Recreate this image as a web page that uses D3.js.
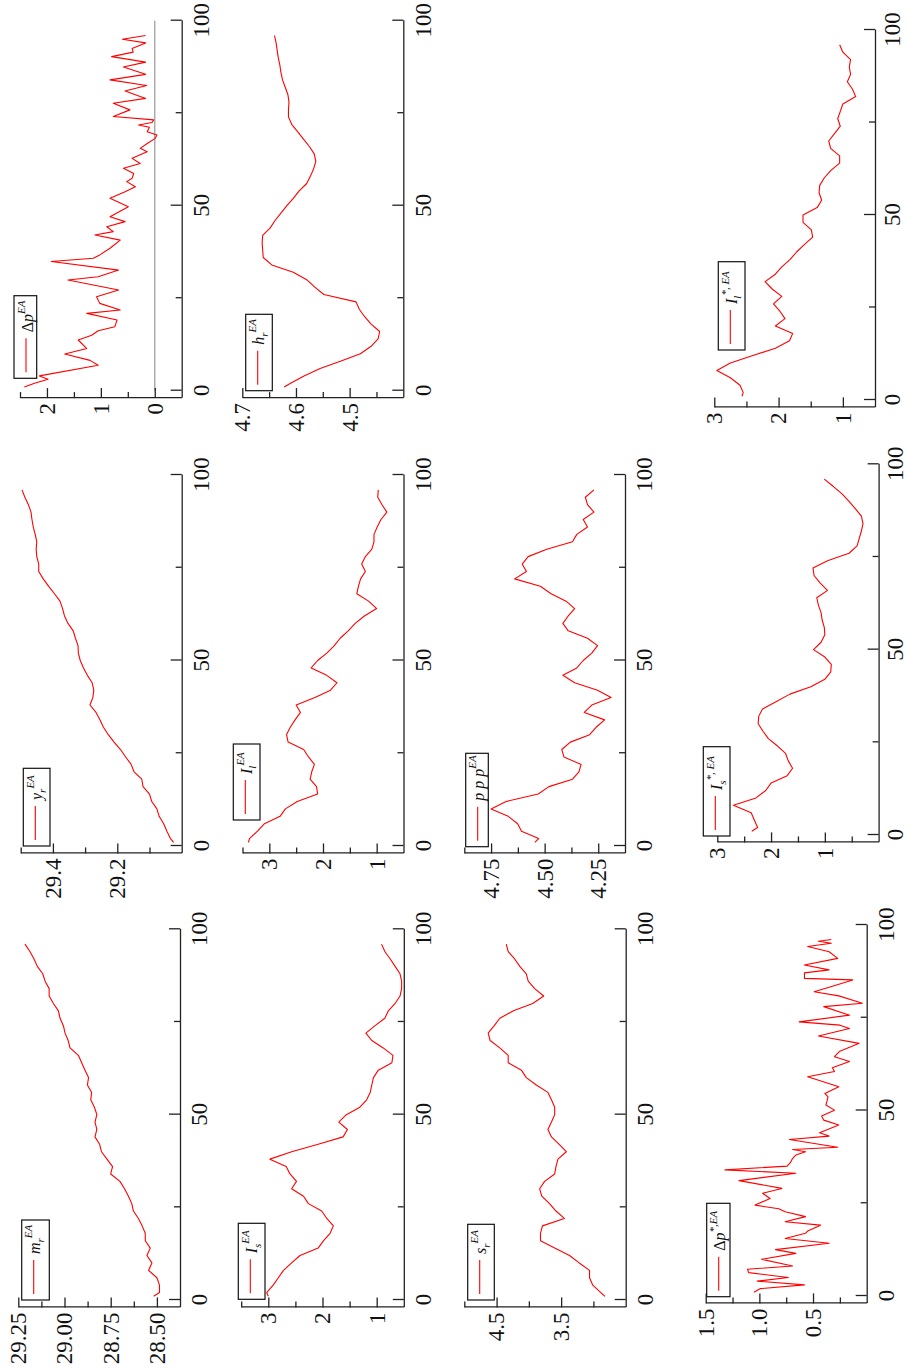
<!DOCTYPE html>
<html><head><meta charset="utf-8">
<script src="https://cdn.jsdelivr.net/npm/d3@7"></script>
<style>body{margin:0;background:#fff}svg{display:block}svg text{font-family:'Liberation Serif','Times New Roman',serif}</style>
</head><body>
<svg id="chart" width="909" height="1370"></svg>
<script>
// ---- data (period index and values) ----
const tGrid = [1,2,4,6,8,10,12,14,16,18,20,22,24,26,28,30,32,34,36,38,40,42,44,46,48,50,52,54,56,58,60,62,64,66,68,70,72,74,76,78,80,82,84,86,88,90,92,94,96];

const mr = [28.518,28.486,28.486,28.50,28.545,28.527,28.554,28.536,28.563,28.563,28.58,28.60,28.627,28.636,28.654,28.675,28.70,28.75,28.74,28.77,28.80,28.81,28.835,28.825,28.835,28.825,28.838,28.858,28.853,28.876,28.87,28.889,28.907,28.925,28.97,28.98,28.997,29.006,29.024,29.033,29.06,29.083,29.083,29.105,29.118,29.147,29.165,29.187,29.214];
const Is = [3.0,3.03,2.91,2.815,2.72,2.57,2.415,2.08,1.98,1.86,1.80,1.92,2.015,2.26,2.35,2.57,2.48,2.60,2.67,2.97,2.57,2.08,1.62,1.54,1.70,1.56,1.31,1.185,1.12,1.09,1.06,0.97,0.72,0.70,0.88,1.09,1.20,1.03,0.85,0.785,0.66,0.57,0.54,0.54,0.57,0.66,0.75,0.85,0.91];
const sr = [2.82,2.885,3.01,3.06,3.06,3.22,3.37,3.60,3.82,3.82,3.79,3.45,3.58,3.68,3.80,3.833,3.756,3.60,3.58,3.55,3.42,3.53,3.65,3.705,3.65,3.60,3.60,3.65,3.705,3.885,4.04,4.115,4.32,4.32,4.45,4.60,4.63,4.536,4.45,4.24,3.94,3.77,3.91,4.01,4.04,4.14,4.22,4.32,4.35];
const yr = [29.025,29.035,29.046,29.056,29.070,29.077,29.093,29.100,29.12,29.124,29.148,29.157,29.174,29.19,29.21,29.228,29.243,29.254,29.266,29.285,29.276,29.273,29.278,29.293,29.305,29.315,29.321,29.322,29.330,29.337,29.353,29.364,29.370,29.378,29.395,29.413,29.43,29.444,29.444,29.45,29.452,29.45,29.455,29.461,29.465,29.468,29.476,29.487,29.496];
const Il = [3.39,3.37,3.22,3.09,2.80,2.70,2.48,2.10,2.12,2.24,2.21,2.16,2.27,2.36,2.65,2.68,2.61,2.52,2.42,2.50,2.15,1.86,1.74,1.93,2.22,2.10,1.93,1.79,1.68,1.53,1.40,1.23,1.00,1.15,1.37,1.34,1.30,1.21,1.28,1.21,1.09,1.05,1.05,0.99,0.92,0.81,0.90,0.98,0.97];
const ppp = [4.546,4.528,4.608,4.626,4.67,4.75,4.68,4.53,4.48,4.37,4.34,4.33,4.41,4.42,4.38,4.29,4.26,4.22,4.315,4.28,4.19,4.253,4.36,4.415,4.35,4.32,4.28,4.253,4.30,4.39,4.415,4.39,4.36,4.40,4.47,4.52,4.64,4.585,4.605,4.577,4.49,4.37,4.35,4.30,4.32,4.27,4.30,4.31,4.27];
const IsStar = [2.36,2.25,2.31,2.37,2.70,2.28,2.10,2.00,1.70,1.60,1.68,1.73,1.88,2.05,2.15,2.24,2.23,2.16,1.90,1.65,1.26,1.00,0.89,0.88,1.00,1.21,1.07,1.0,1.01,1.05,1.07,1.12,1.15,0.95,1.09,1.20,1.22,0.95,0.55,0.40,0.36,0.32,0.29,0.32,0.43,0.55,0.68,0.84,1.01];
const hr = [4.622,4.61,4.585,4.555,4.516,4.48,4.46,4.447,4.444,4.46,4.472,4.482,4.488,4.548,4.565,4.58,4.605,4.645,4.661,4.662,4.663,4.662,4.648,4.639,4.628,4.617,4.605,4.594,4.58,4.573,4.567,4.563,4.566,4.575,4.586,4.597,4.608,4.614,4.614,4.613,4.615,4.62,4.625,4.628,4.63,4.633,4.635,4.637,4.64];
const IlStar = [2.57,2.55,2.60,2.75,2.96,2.75,2.40,2.05,1.83,1.78,2.05,1.90,1.98,2.08,1.95,2.10,2.21,2.05,1.95,1.82,1.72,1.60,1.47,1.49,1.62,1.62,1.40,1.33,1.37,1.36,1.29,1.19,1.05,1.05,1.19,1.22,1.13,1.04,1.08,1.04,1.00,0.80,0.85,0.93,0.88,0.90,0.88,1.00,1.05];

const dpT = [1,2,3.1,4,6.9,8.2,9.9,11.4,13.7,15,16.2,17.3,18.2,19.1,20.9,21.8,23.6,25.4,27.2,29.9,30.8,32.6,34.9,35.8,36.7,38.5,40.7,42.1,43,44.3,45.7,47,49.7,52,53.8,55.1,56.5,57.4,58.7,60.1,61.4,62.8,64.6,65.5,66.8,68.2,69.1,70,71.2,71.8,72.5,73.2,74.1,75.9,77.7,79,81,82.5,84,85.5,87.5,88.8,90.3,91.5,92.5,94,95,96];
const dpV = [2.42,2.23,1.98,2.14,1.05,1.20,1.67,1.26,1.42,1.17,1.05,0.74,0.72,0.70,1.26,0.64,1.02,1.08,0.67,1.61,1.05,0.67,1.92,1.14,1.02,0.83,0.64,1.11,0.77,0.89,0.55,0.83,0.49,0.83,0.55,0.36,0.52,0.42,0.39,0.58,0.27,0.42,0.14,0.27,0.14,-0.01,-0.04,0.14,0.10,0.30,0.05,0.02,0.77,0.46,0.77,0.17,0.55,0.15,0.83,0.17,0.58,0.17,0.80,0.40,0.42,0.17,0.60,0.17];
const dpStarT = [1,2,3,4,5,6.3,7.2,8.1,9.9,11.5,12.5,14.2,15.5,16.9,17.5,19.1,20,21.4,22.7,23.5,24.5,26.3,27.7,29,31.1,33.1,34,35,36,37.1,38,38.9,39.5,40.1,42.2,43.1,44,46.1,47.4,48.5,50.1,51.5,52.5,53.7,54.6,56.4,59.1,60.5,61.5,63.2,64.5,66,68.1,70.1,72.1,73,73.9,75.7,78,78.9,80.9,82,83.2,85.2,85.6,87.1,87.9,89.2,91,92.8,94.2,95.1,95.6,96.1];
const dpStarV = [1.05,0.99,0.58,1.02,0.73,1.10,1.11,0.69,0.98,0.66,0.85,0.35,0.76,0.57,0.55,0.43,0.76,0.57,0.76,0.82,1.04,0.90,0.97,0.79,1.19,0.66,1.32,0.74,0.71,0.69,0.66,0.57,0.69,0.27,0.72,0.35,0.44,0.26,0.40,0.42,0.30,0.38,0.37,0.36,0.39,0.26,0.55,0.30,0.32,0.16,0.30,0.25,0.07,0.45,0.16,0.25,0.63,0.16,0.40,0.04,0.26,0.49,0.35,0.13,0.58,0.58,0.35,0.58,0.27,0.35,0.55,0.33,0.45,0.33];

// ---- tick values / labels ----
const xMajor = [0,50,100], xMinor = [25,75];
const mrTicks = [28.5,28.75,29.0,29.25], mrLabels = ["28.50","28.75","29.00","29.25"], mrMinor = [28.625,28.875,29.125];
const IsTicks = [1,2,3], IsLabels = ["1","2","3"], IsMinor = [1.5,2.5,3.5];
const srTicks = [3.5,4.5], srLabels = ["3.5","4.5"], srMinor = [3.0,4.0,5.0];
const dpStarTicks = [0.5,1.0,1.5], dpStarLabels = ["0.5","1.0","1.5"], dpStarMinor = [0.25,0.75,1.25];
const yrTicks = [29.2,29.4], yrLabels = ["29.2","29.4"], yrMinor = [29.1,29.3,29.5];
const IlTicks = [1,2,3], IlLabels = ["1","2","3"], IlMinor = [1.5,2.5,3.5];
const pppTicks = [4.25,4.5,4.75], pppLabels = ["4.25","4.50","4.75"], pppMinor = [4.375,4.625,4.875];
const IsStarTicks = [1,2,3], IsStarLabels = ["1","2","3"], IsStarMinor = [0.5,1.5,2.5];
const dpTicks = [0,1,2], dpLabels = ["0","1","2"], dpMinor = [0.5,1.5,2.5];
const hrTicks = [4.5,4.6,4.7], hrLabels = ["4.5","4.6","4.7"], hrMinor = [4.45,4.55,4.65];
const IlStarTicks = [1,2,3], IlStarLabels = ["1","2","3"], IlStarMinor = [1.5,2.5];

// ---- layout (drawn in landscape 1370x909, then rotated) ----
const panels = [
 {x0:70, x100:440.7, top:18.3, bottom:180, dom:[28.375,29.25], tk:mrTicks, lb:mrLabels, mn:mrMinor, t:tGrid, v:mr, leg:[70,21.7,80,27.6], base:[["m",1]], sub:"r", sup:"EA"},
 {x0:70, x100:440.7, top:241.2, bottom:403.8, dom:[0.5,3.5], tk:IsTicks, lb:IsLabels, mn:IsMinor, t:tGrid, v:Is, leg:[70.7,238.3,76,26.7], base:[["I",1]], sub:"s", sup:"EA"},
 {x0:70, x100:440.7, top:464.3, bottom:625.7, dom:[2.5,5.0], tk:srTicks, lb:srLabels, mn:srMinor, t:tGrid, v:sr, leg:[70,467.7,75.7,26.6], base:[["s",1]], sub:"r", sup:"EA"},
 {x0:74, x100:445, top:705.7, bottom:866.7, dom:[0,1.5], tk:dpStarTicks, lb:dpStarLabels, mn:dpStarMinor, t:dpStarT, v:dpStarV, leg:[73.3,706.7,93.4,23.3], base:[["Δ",0],["p",1]], sub:null, sup:"*,EA"},
 {x0:524, x100:895, top:20.7, bottom:181.7, dom:[29.0,29.5], tk:yrTicks, lb:yrLabels, mn:yrMinor, t:tGrid, v:yr, leg:[524,23.3,77.7,26.7], base:[["y",1]], sub:"r", sup:"EA"},
 {x0:524, x100:895, top:242.5, bottom:403.5, dom:[0.5,3.5], tk:IlTicks, lb:IlLabels, mn:IlMinor, t:tGrid, v:Il, leg:[550,233.3,76,26.7], base:[["I",1]], sub:"l", sup:"EA"},
 {x0:524, x100:895, top:464.3, bottom:625, dom:[4.125,4.875], tk:pppTicks, lb:pppLabels, mn:pppMinor, t:tGrid, v:ppp, leg:[523.3,465.7,93.4,22.6], base:[["p p p",1]], sub:null, sup:"EA"},
 {x0:535, x100:905.7, top:717.3, bottom:878.6, dom:[0,3], tk:IsStarTicks, lb:IsStarLabels, mn:IsStarMinor, t:tGrid, v:IsStar, leg:[534,703.3,89.3,26.7], base:[["I",1]], sub:"s", sup:"*, EA", xpad:8},
 {x0:979.3, x100:1349.3, top:20, bottom:181.7, dom:[-0.5,2.5], tk:dpTicks, lb:dpLabels, mn:dpMinor, t:dpT, v:dpV, leg:[991.7,14,82.6,22.7], base:[["Δ",0],["p",1]], sub:null, sup:"EA", zero:true},
 {x0:979.3, x100:1349.3, top:242.3, bottom:403.3, dom:[4.4,4.7], tk:hrTicks, lb:hrLabels, mn:hrMinor, t:tGrid, v:hr, leg:[979.3,245.7,76.4,26.6], base:[["h",1]], sub:"r", sup:"EA"},
 {x0:970, x100:1340, top:714.3, bottom:875, dom:[0.5,3], tk:IlStarTicks, lb:IlStarLabels, mn:IlStarMinor, t:tGrid, v:IlStar, leg:[1020,718.3,88.3,26.7], base:[["I",1]], sub:"l", sup:"*, EA", xpad:9}
];

const FONT = "Liberation Serif";
const svg = d3.select('#chart');
const root = svg.append('g').attr('transform','translate(0,1370) rotate(-90)');

panels.forEach(p => {
  const g = root.append('g');
  const unit = (p.x100 - p.x0) / 100;
  const x = d3.scaleLinear().domain([-2,100]).range([p.x0 - 2*unit, p.x100]);
  const y = d3.scaleLinear().domain(p.dom).range([p.bottom, p.top]);

  if (p.zero) {
    g.append('line').attr('x1', x(0)).attr('x2', x(100)).attr('y1', y(0)).attr('y2', y(0))
      .attr('stroke','#a0a0a0').attr('stroke-width',1.3);
  }

  // x axis (bottom) - major and minor
  const xa = g.append('g').attr('transform',`translate(0,${p.bottom})`)
    .call(d3.axisBottom(x).tickValues(xMajor).tickSizeInner(-11).tickSizeOuter(0).tickPadding(p.xpad || 11).tickFormat(d3.format('d')));
  const xm = g.append('g').attr('transform',`translate(0,${p.bottom})`)
    .call(d3.axisBottom(x).tickValues(xMinor).tickSizeInner(-6).tickSizeOuter(0).tickFormat(''));
  xm.select('.domain').remove();

  // y axis (left)
  const ya = g.append('g').attr('transform',`translate(${x(-2)},0)`)
    .call(d3.axisLeft(y).tickValues(p.tk).tickSizeInner(-10).tickSizeOuter(0).tickPadding(5).tickFormat((d,i)=>p.lb[i]));
  const ym = g.append('g').attr('transform',`translate(${x(-2)},0)`)
    .call(d3.axisLeft(y).tickValues(p.mn).tickSizeInner(-6).tickSizeOuter(0).tickFormat(''));
  ym.select('.domain').remove();

  [xa,xm,ya,ym].forEach(a => {
    a.attr('font-family', FONT);
    a.selectAll('path,line').attr('stroke','#222').attr('stroke-width',1.3);
    a.selectAll('text').attr('font-family',FONT).attr('font-size',23).attr('fill','#111');
  });

  // series
  const pts = p.t.map((t,i)=>[t,p.v[i]]);
  g.append('path').datum(pts)
    .attr('fill','none').attr('stroke','#ff0000').attr('stroke-width',1.1).attr('stroke-linejoin','round')
    .attr('d', d3.line().x(d=>x(d[0])).y(d=>y(d[1])));

  // legend
  const [lx,ly,lw,lh] = p.leg;
  g.append('rect').attr('x',lx).attr('y',ly).attr('width',lw).attr('height',lh)
    .attr('fill','#fff').attr('stroke','#111').attr('stroke-width',1.2);
  g.append('line').attr('x1',lx+6).attr('x2',lx+40).attr('y1',ly+12).attr('y2',ly+12)
    .attr('stroke','#ff0000').attr('stroke-width',1.1);
  const txt = g.append('text').attr('x',lx+46).attr('y',ly+18.5)
    .attr('font-family',FONT).attr('font-size',16).attr('fill','#111');
  p.base.forEach(([s,it]) => txt.append('tspan').attr('font-style', it ? 'italic':'normal').text(s));
  if (p.sub) txt.append('tspan').attr('font-style','italic').attr('font-size',11).attr('dy',4).text(p.sub);
  txt.append('tspan').attr('font-style','italic').attr('font-size',11).attr('dy', p.sub ? -12 : -8).text(p.sup);
});
</script>
</body></html>
